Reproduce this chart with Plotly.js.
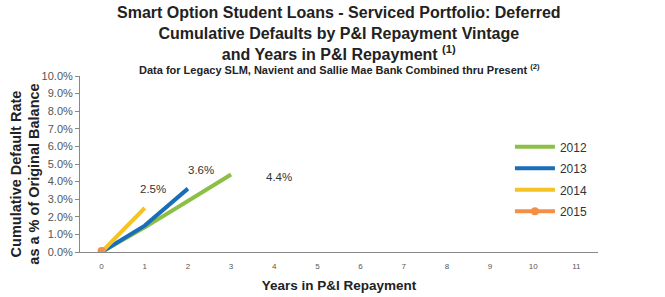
<!DOCTYPE html>
<html><head><meta charset="utf-8">
<script src="https://cdn.plot.ly/plotly-3.0.1.min.js"></script>
<style>body{margin:0;background:#fff}#c{width:665px;height:297px}</style>
</head><body><div id="c"></div>
<script>
const years = [0,1,2,3];
const v2012 = [0,1.4,2.9,4.4];
const v2013 = [0,1.5,3.6];
const v2014 = [0,2.5];
const v2015 = [0.05];
const seriesNames = ['2012','2013','2014','2015'];
const colors = ['#8cbf45','#1a6db8','#f6c324','#f39045'];
const endLabels = ['2.5%','3.6%','4.4%'];
const labelPos = [[1.2,3.6],[2.3,4.65],[4.1,4.25]];
const xTicks = [0,1,2,3,4,5,6,7,8,9,10,11];

const vals = [v2012,v2013,v2014,v2015];
const traces = vals.map((v,i)=>({
  x: years.slice(0,v.length), y: v, name: seriesNames[i], type:'scatter',
  legendgroup: 'g'+i,
  mode: i===3 ? 'lines+markers' : 'lines',
  line:{color:colors[i], width:4},
  marker:{color:colors[i], size:8}
}));

const layout = {
  width:665, height:297,
  margin:{l:80,r:67,t:76,b:45},
  paper_bgcolor:'#fff', plot_bgcolor:'#fff',
  font:{family:'Liberation Sans, Arial, sans-serif', color:'#222'},
  showlegend:true,
  legend:{x:0.83, y:0.68, xanchor:'left', yanchor:'top', font:{size:12,color:'#333'}, itemwidth:40, tracegroupgap:2.5, bgcolor:'rgba(0,0,0,0)'},
  xaxis:{range:[-0.5,11.5], tickvals:xTicks, showgrid:false, zeroline:false,
    showline:true, linecolor:'#888', linewidth:1, ticks:'', tickfont:{size:8,color:'#555'},
    ticklabelstandoff:6,
    title:{text:'<b>Years in P&I Repayment</b>', font:{size:13.5,color:'#222'}, standoff:10}},
  yaxis:{range:[0,10], dtick:1, tickformat:'.1f', ticksuffix:'%', showgrid:false, zeroline:false,
    showline:true, linecolor:'#888', linewidth:1, ticks:'outside', ticklen:4, tickcolor:'#888',
    tickfont:{size:11,color:'#555'}},
  annotations:[
    {xref:'paper', yref:'paper', x:0.5, y:1.41, yanchor:'top', yshift:2, showarrow:false,
     text:'<b>Smart Option Student Loans - Serviced Portfolio: Deferred<br>Cumulative Defaults by P&I Repayment Vintage<br>and Years in P&I Repayment <sup>(1)</sup></b>',
     font:{size:16,color:'#222'}},
    {xref:'paper', yref:'paper', x:-0.106, xanchor:'center', y:0.44, yanchor:'middle', textangle:-90, showarrow:false,
     text:'<b>Cumulative Default Rate<br>as a % of Original Balance</b>', font:{size:14.5,color:'#222'}},
    ...endLabels.map((t,i)=>({x:labelPos[i][0], y:labelPos[i][1], text:t, showarrow:false, font:{size:11.5,color:'#333'}})),
    {xref:'paper', yref:'paper', x:0.5, y:1.0, yanchor:'bottom', yshift:-2, text:'<b>Data for Legacy SLM, Navient and Sallie Mae Bank Combined thru Present <sup>(2)</sup></b>', showarrow:false, font:{size:11,color:'#222'}}
  ]
};
Plotly.newPlot('c', traces, layout, {displayModeBar:false});
</script></body></html>
